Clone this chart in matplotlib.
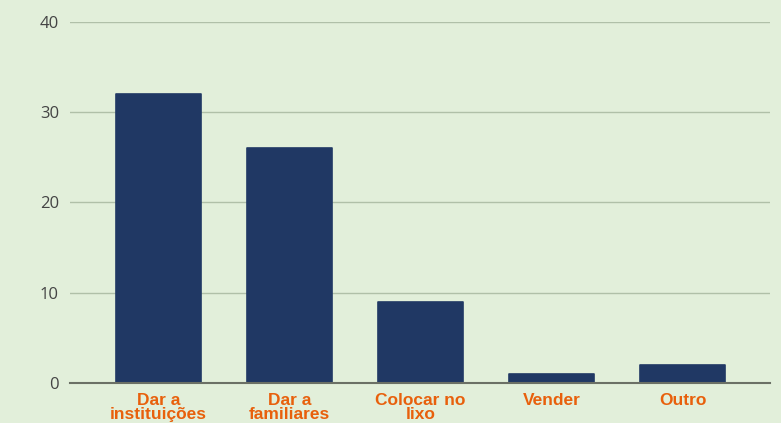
import matplotlib
matplotlib.use("Agg")
import matplotlib.pyplot as plt

# Destino dado aos objetos
categories = ["Dar a\ninstituições", "Dar a\nfamiliares", "Colocar no\nlixo", "Vender", "Outro"]
counts = [32, 26, 9, 1, 2]
y_ticks = [0, 10, 20, 30, 40]

BG = "#e2efda"
BAR = "#203864"
LABEL = "#e8600c"

fig = plt.figure(figsize=(7.81, 4.23), dpi=100, facecolor=BG)
ax = fig.add_axes([70 / 781, 1 - 383 / 423, 700 / 781, 361 / 423], facecolor=BG)

x = range(len(categories))
ax.bar(x, counts, width=0.65, color=BAR, edgecolor=BAR, linewidth=1.2,
       joinstyle="round", zorder=3)

ax.set_xlim(-0.676, 4.668)
ax.set_ylim(0, 40)
ax.set_yticks(y_ticks)
ax.set_yticklabels([str(v) for v in y_ticks], fontfamily="Open Sans",
                   fontsize=12, color="#444444")
ax.tick_params(axis="y", length=0, pad=8)
ax.tick_params(axis="x", length=0, pad=7)
ax.set_xticks(list(x))
ax.set_xticklabels(categories, fontfamily="Liberation Sans", fontweight="bold",
                   fontsize=12.5, color=LABEL, linespacing=0.9)

ax.grid(axis="y", color="#b0c0a8", linewidth=1, zorder=0)
for side in ("top", "right", "left"):
    ax.spines[side].set_visible(False)
ax.spines["bottom"].set_color("#6b7065")
ax.spines["bottom"].set_linewidth(1.5)
ax.spines["bottom"].set_zorder(4)

fig.savefig("out.png", dpi=100, facecolor=BG)
